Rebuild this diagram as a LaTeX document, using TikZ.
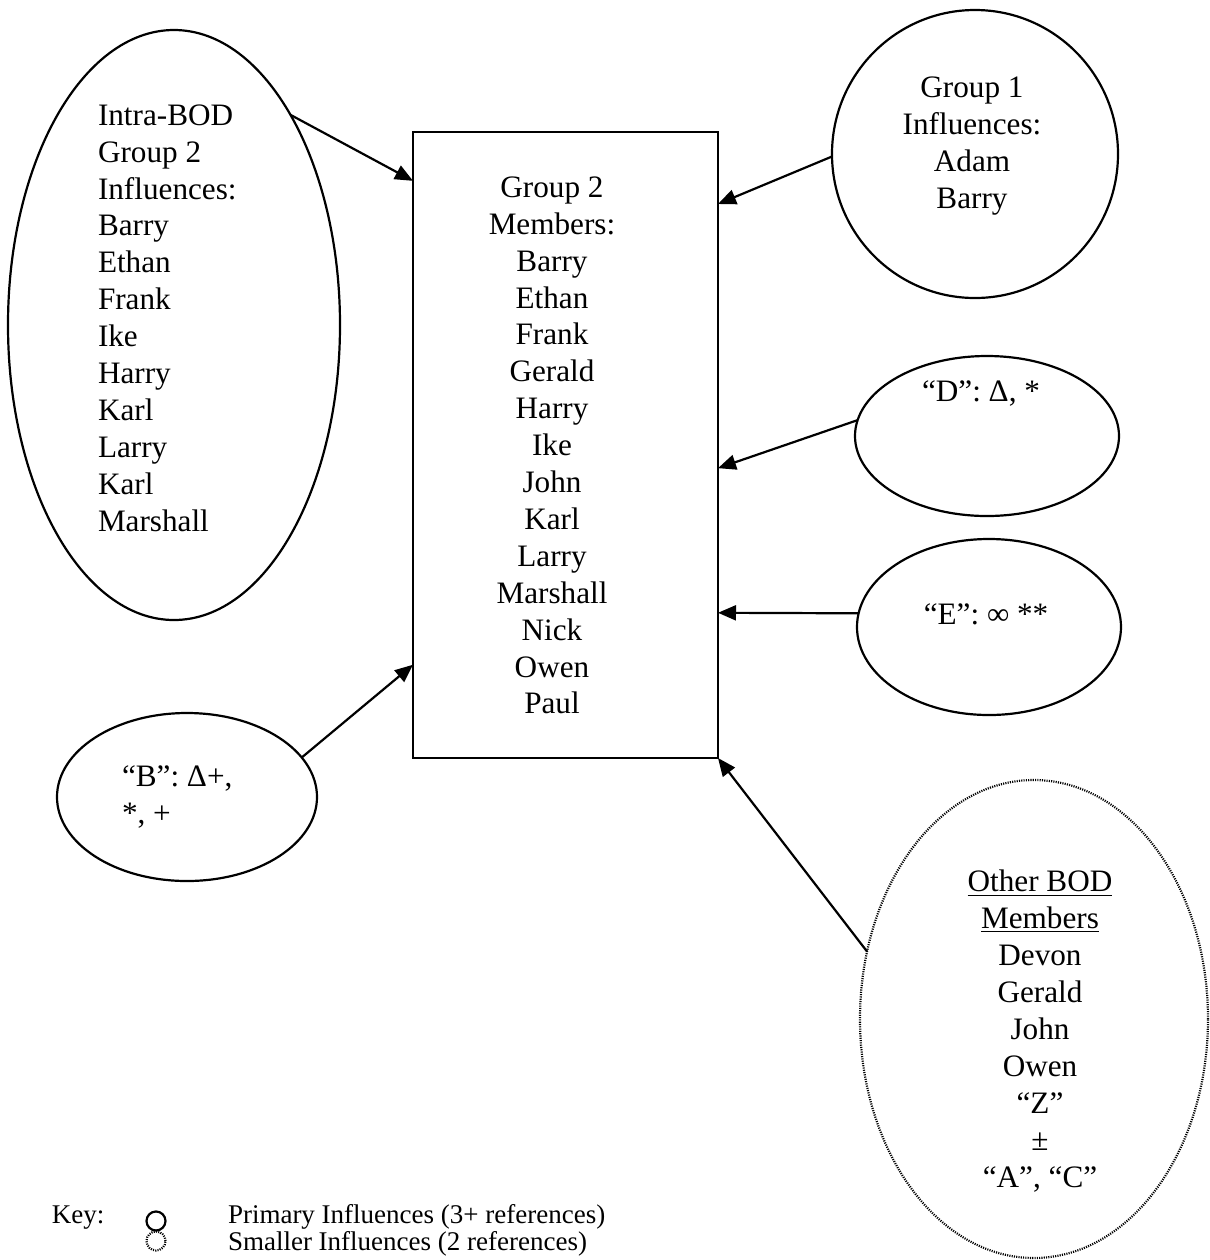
\documentclass[tikz,border=0pt]{standalone}
\usepackage{fontspec}
\setmainfont{Liberation Serif}
\usetikzlibrary{shapes.geometric,arrows.meta,calc}

\begin{document}
\begin{tikzpicture}[x=0.5pt,y=-0.5pt,
  every node/.style={inner sep=0pt, outer sep=0pt},
  bubble/.style={draw, ellipse, line width=1.1pt},
  minor/.style={draw, ellipse, line width=1.1pt, dash pattern=on 0.55pt off 0.6pt},
  txt/.style={font=\fontsize{15.6}{18.45}\selectfont, align=center},
  keytxt/.style={font=\fontsize{13.5}{14}\selectfont},
  arr/.style={line width=1.1pt, -{Triangle[length=9pt,width=7.5pt]}},
]
\useasboundingbox (0,0) rectangle (1210,1260);

% outlines
\node[draw, line width=1.1pt, minimum width=152.5pt, minimum height=313pt] (box) at (565.5,445) {};
\node[bubble, minimum width=166pt, minimum height=295pt] (intra) at (174,325) {};
\node[bubble, minimum width=143pt, minimum height=144pt] (g1) at (975,154) {};
\node[bubble, minimum width=132pt, minimum height=80pt] (d) at (987,436) {};
\node[bubble, minimum width=132pt, minimum height=88pt] (e) at (989,627) {};
\node[bubble, minimum width=130pt, minimum height=84pt] (b) at (187,797) {};
\node[minor, minimum width=174pt, minimum height=239pt] (other) at (1034,1019) {};

% texts
\node[txt, align=left, anchor=west] (intratxt) at (98,318)
  {Intra-BOD\\Group 2\\Influences:\\Barry\\Ethan\\Frank\\Ike\\Harry\\Karl\\Larry\\Karl\\Marshall};
\node[txt] (boxtxt) at (552,445.5)
  {Group 2\\Members:\\Barry\\Ethan\\Frank\\Gerald\\Harry\\Ike\\John\\Karl\\Larry\\Marshall\\Nick\\Owen\\Paul};
\node[txt] (g1txt) at (972,146) {Group 1\\Influences:\\Adam\\Barry};
\node[txt] (dtxt) at (981,393) {“D”: Δ, *};
\node[txt] (etxt) at (986,614) {“E”: ∞ **};
\node[txt, align=left, anchor=west] (btxt) at (122,797) {“B”: Δ+,\\*, +};
\node[txt] (othertxt) at (1040,1031)
  {\underline{Other BOD}\\\underline{Members}\\Devon\\Gerald\\John\\Owen\\“Z”\\±\\“A”, “C”};

% connectors
\draw[arr] (intra.61) -- ($(box.north west)!0.078!(box.south west)$);
\draw[arr] (g1.181) -- ($(box.north east)!0.115!(box.south east)$);
\draw[arr] (d.173) -- ($(box.north east)!0.537!(box.south east)$);
\draw[arr] (e.174) -- ($(box.north east)!0.768!(box.south east)$);
\draw[arr] (b.19) -- ($(box.north west)!0.851!(box.south west)$);
\draw[arr] (other.158) -- (box.south east);

% key
\node[keytxt, anchor=west] (keylbl) at (52,1218) {Key:};
\node[bubble, minimum width=9.5pt, minimum height=9.5pt] (keyprim) at (156,1221) {};
\node[minor, minimum width=9.5pt, minimum height=9.5pt] (keysmall) at (156,1241) {};
\node[keytxt, anchor=west] (keyprimtxt) at (228,1217) {Primary Influences (3+ references)};
\node[keytxt, anchor=west] (keysmalltxt) at (228,1244) {Smaller Influences (2 references)};
\end{tikzpicture}
\end{document}
